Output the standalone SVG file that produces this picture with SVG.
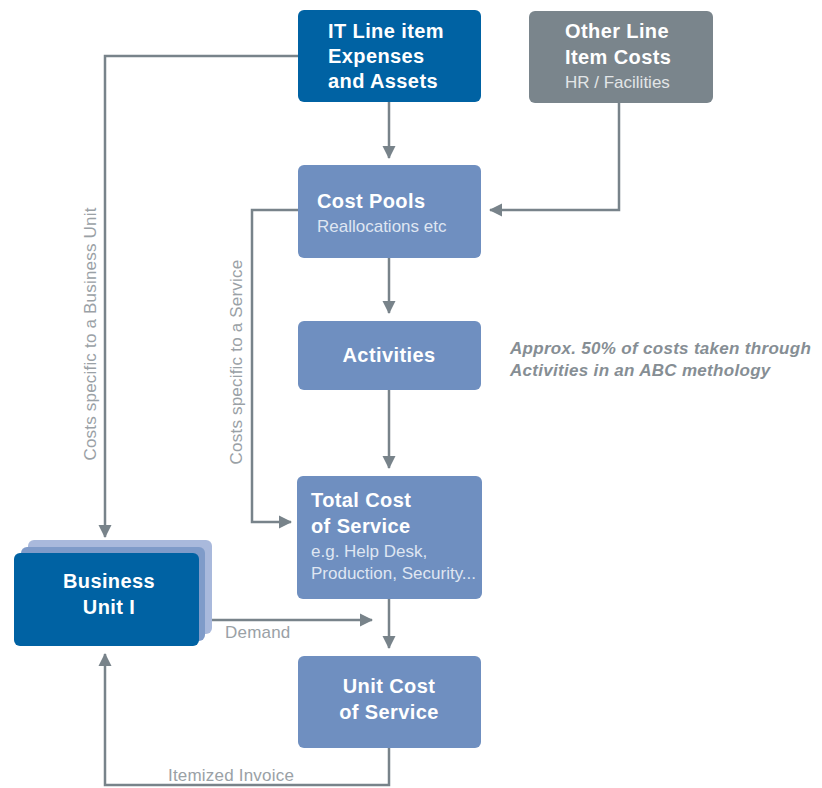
<svg xmlns="http://www.w3.org/2000/svg" width="822" height="788" viewBox="0 0 822 788">
<defs>
<marker id="a" markerWidth="14" markerHeight="14" refX="12" refY="7" orient="auto" markerUnits="userSpaceOnUse">
<path d="M0,0.5 L13,7 L0,13.5 Z" fill="#78838a"/>
</marker>
</defs>
<style>
.t{font-family:"Liberation Sans",Arial,sans-serif;font-weight:bold;font-size:20px;fill:#fff;letter-spacing:0.4px}
.s{font-family:"Liberation Sans",Arial,sans-serif;font-size:17px;fill:#dfe6f2}
.l{font-family:"Liberation Sans",Arial,sans-serif;font-size:17px;fill:#9aa1a6;letter-spacing:0.2px}
.n{font-family:"Liberation Sans",Arial,sans-serif;font-size:17px;font-style:italic;font-weight:bold;fill:#868e94;letter-spacing:0.3px}
.c{fill:none;stroke:#78838a;stroke-width:2.5}
.lb{fill:#6f8fc0}
</style>
<rect width="822" height="788" fill="#fff"/>
<g id="connectors">
<polyline class="c" points="298,56 105,56 105,537" marker-end="url(#a)"/>
<line class="c" x1="389" y1="102" x2="389" y2="158" marker-end="url(#a)"/>
<polyline class="c" points="619,103 619,210 490,210" marker-end="url(#a)"/>
<polyline class="c" points="298,210 252,210 252,522 291,522" marker-end="url(#a)"/>
<line class="c" x1="389" y1="258" x2="389" y2="313" marker-end="url(#a)"/>
<line class="c" x1="389" y1="390" x2="389" y2="468" marker-end="url(#a)"/>
<line class="c" x1="389" y1="599" x2="389" y2="648" marker-end="url(#a)"/>
<line class="c" x1="205" y1="620" x2="372" y2="620" marker-end="url(#a)"/>
<polyline class="c" points="389,748 389,785 105,785 105,654" marker-end="url(#a)"/>
<text class="l" transform="translate(96,334) rotate(-90)" text-anchor="middle">Costs specific to a Business Unit</text>
<text class="l" transform="translate(242,362) rotate(-90)" text-anchor="middle">Costs specific to a Service</text>
<text class="l" x="225" y="638">Demand</text>
<text class="l" x="168" y="781">Itemized Invoice</text>
</g>
<g id="it-line-item">
<rect x="298" y="10" width="183" height="92" rx="6" fill="#0062a3"/>
<text class="t" x="328" y="38">IT Line item</text>
<text class="t" x="328" y="63">Expenses</text>
<text class="t" x="328" y="88">and Assets</text>
</g>
<g id="other-line-item">
<rect x="529" y="11" width="184" height="92" rx="6" fill="#7a858c"/>
<text class="t" x="565" y="38">Other Line</text>
<text class="t" x="565" y="64">Item Costs</text>
<text class="s" x="565" y="88" style="fill:#e2e5e7">HR / Facilities</text>
</g>
<g id="cost-pools">
<rect class="lb" x="298" y="165" width="183" height="93" rx="6"/>
<text class="t" x="317" y="208">Cost Pools</text>
<text class="s" x="317" y="232">Reallocations etc</text>
</g>
<g id="activities">
<rect class="lb" x="298" y="321" width="183" height="69" rx="6"/>
<text class="t" x="389" y="362" text-anchor="middle">Activities</text>
</g>
<g id="note">
<text class="n" x="510" y="354">Approx. 50% of costs taken through</text>
<text class="n" x="510" y="376">Activities in an ABC methology</text>
</g>
<g id="total-cost">
<rect class="lb" x="297" y="476" width="185" height="123" rx="6"/>
<text class="t" x="311" y="507">Total Cost</text>
<text class="t" x="311" y="533">of Service</text>
<text class="s" x="311" y="557">e.g. Help Desk,</text>
<text class="s" x="311" y="579">Production, Security...</text>
</g>
<g id="business-unit">
<rect x="28" y="540" width="184" height="94" rx="6" fill="#a9b9dc"/>
<rect x="21" y="547" width="184" height="94" rx="6" fill="#7f9bc9"/>
<rect x="14" y="553" width="185" height="93" rx="6" fill="#0062a3"/>
<text class="t" x="109" y="588" text-anchor="middle">Business</text>
<text class="t" x="109" y="614" text-anchor="middle">Unit I</text>
</g>
<g id="unit-cost">
<rect class="lb" x="298" y="656" width="183" height="92" rx="6"/>
<text class="t" x="389" y="693" text-anchor="middle">Unit Cost</text>
<text class="t" x="389" y="719" text-anchor="middle">of Service</text>
</g>
</svg>
